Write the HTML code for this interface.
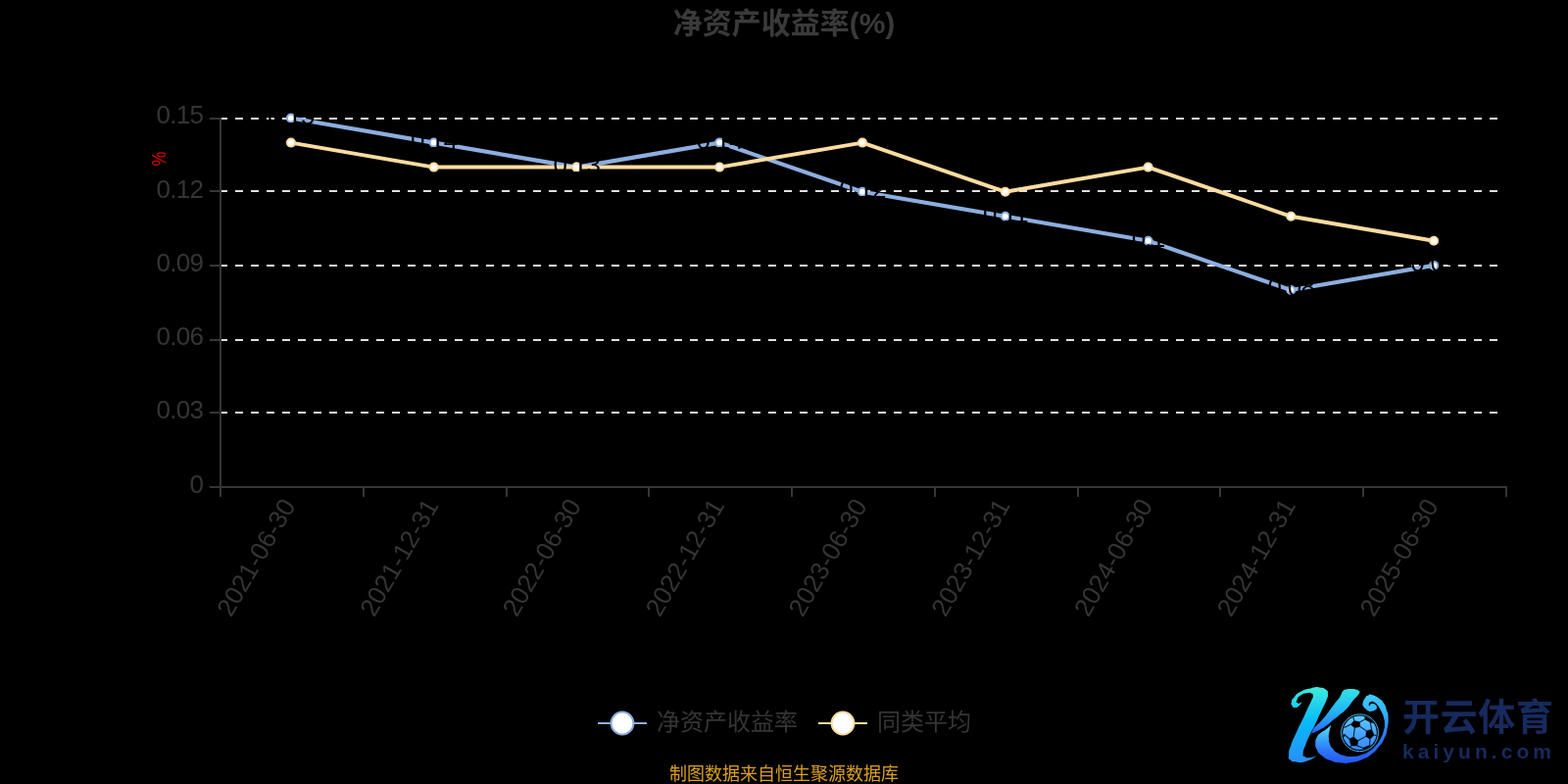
<!DOCTYPE html>
<html lang="zh"><head><meta charset="utf-8"><title>净资产收益率(%)</title>
<style>
html,body{margin:0;padding:0;background:#000;}
body{width:1600px;height:800px;overflow:hidden;position:relative;font-family:"Liberation Sans","Noto Sans CJK SC",sans-serif;}
svg{position:absolute;left:0;top:0;display:block;will-change:transform;}
text{font-family:"Liberation Sans","Noto Sans CJK SC",sans-serif;}
.ax{fill:#353535;font-size:26px;}
.yl{letter-spacing:-0.75px;}
.dl{fill:#000;font-size:26px;letter-spacing:-0.75px;}
</style></head><body>
<svg width="1600" height="800" viewBox="0 0 1600 800">
<rect width="1600" height="800" fill="#000"/>
<g id="title"><text x="800" y="34" font-size="30" font-weight="bold" text-anchor="middle" fill="#3a3a3a">净资产收益率(%)</text></g>
<g id="grid" stroke="#dfdfdf" stroke-width="2" stroke-dasharray="8 8" fill="none">
<path d="M224 121 H1536"/>
<path d="M224 195 H1536"/>
<path d="M224 271 H1536"/>
<path d="M224 347 H1536"/>
<path d="M224 421 H1536"/>
</g>
<g id="axes" stroke="#363636" stroke-width="2" fill="none">
<path d="M225 120 V498"/>
<path d="M224 497 H1538"/>
<path d="M214 121 H225"/>
<path d="M214 195 H225"/>
<path d="M214 271 H225"/>
<path d="M214 347 H225"/>
<path d="M214 421 H225"/>
<path d="M214 497 H225"/>
<path d="M225 497 V507"/>
<path d="M371 497 V507"/>
<path d="M517 497 V507"/>
<path d="M662 497 V507"/>
<path d="M808 497 V507"/>
<path d="M954 497 V507"/>
<path d="M1100 497 V507"/>
<path d="M1245 497 V507"/>
<path d="M1391 497 V507"/>
<path d="M1537 497 V507"/>
</g>
<g id="ylabels" class="ax yl" text-anchor="end">
<text x="207.1" y="126.2">0.15</text>
<text x="207.1" y="201.5">0.12</text>
<text x="207.1" y="276.7">0.09</text>
<text x="207.1" y="352.0">0.06</text>
<text x="207.1" y="427.2">0.03</text>
<text x="207.1" y="502.5">0</text>
</g>
<text id="yname" x="0" y="0" transform="translate(169 162.1) rotate(-90) scale(0.84 1)" text-anchor="middle" font-size="20" fill="#e00000">%</text>
<g id="xlabels" class="ax" text-anchor="end">
<text transform="translate(295.4 511.6) rotate(-60)" x="0" y="8">2021-06-30</text>
<text transform="translate(441.2 511.6) rotate(-60)" x="0" y="8">2021-12-31</text>
<text transform="translate(586.9 511.6) rotate(-60)" x="0" y="8">2022-06-30</text>
<text transform="translate(732.7 511.6) rotate(-60)" x="0" y="8">2022-12-31</text>
<text transform="translate(878.5 511.6) rotate(-60)" x="0" y="8">2023-06-30</text>
<text transform="translate(1024.3 511.6) rotate(-60)" x="0" y="8">2023-12-31</text>
<text transform="translate(1170.1 511.6) rotate(-60)" x="0" y="8">2024-06-30</text>
<text transform="translate(1315.8 511.6) rotate(-60)" x="0" y="8">2024-12-31</text>
<text transform="translate(1461.6 511.6) rotate(-60)" x="0" y="8">2025-06-30</text>
</g>
<g id="series" fill="none" stroke-linejoin="bevel">
<path d="M296.9 120.5 L442.7 145.6 L588.4 170.6 L734.2 145.6 L880.0 195.7 L1025.8 220.8 L1171.6 245.8 L1317.3 296.0 L1463.1 270.9" stroke="#8caee0" stroke-width="4.2"/>
<path d="M296.9 145.6 L442.7 170.6 L588.4 170.6 L734.2 170.6 L880.0 145.6 L1025.8 195.7 L1171.6 170.6 L1317.3 220.8 L1463.1 245.8" stroke="#fddca0" stroke-width="4"/>
</g>
<g id="symbols" fill="#fff" stroke-width="2">
<circle cx="296.9" cy="120.5" r="4" stroke="#8caee0"/>
<circle cx="442.7" cy="145.6" r="4" stroke="#8caee0"/>
<circle cx="588.4" cy="170.6" r="4" stroke="#8caee0"/>
<circle cx="734.2" cy="145.6" r="4" stroke="#8caee0"/>
<circle cx="880.0" cy="195.7" r="4" stroke="#8caee0"/>
<circle cx="1025.8" cy="220.8" r="4" stroke="#8caee0"/>
<circle cx="1171.6" cy="245.8" r="4" stroke="#8caee0"/>
<circle cx="1317.3" cy="296.0" r="4" stroke="#8caee0"/>
<circle cx="1463.1" cy="270.9" r="4" stroke="#8caee0"/>
<circle cx="296.9" cy="145.6" r="4" stroke="#fddca0"/>
<circle cx="442.7" cy="170.6" r="4" stroke="#fddca0"/>
<circle cx="588.4" cy="170.6" r="4" stroke="#fddca0"/>
<circle cx="734.2" cy="170.6" r="4" stroke="#fddca0"/>
<circle cx="880.0" cy="145.6" r="4" stroke="#fddca0"/>
<circle cx="1025.8" cy="195.7" r="4" stroke="#fddca0"/>
<circle cx="1171.6" cy="170.6" r="4" stroke="#fddca0"/>
<circle cx="1317.3" cy="220.8" r="4" stroke="#fddca0"/>
<circle cx="1463.1" cy="245.8" r="4" stroke="#fddca0"/>
</g>
<g id="dlabels" class="dl" text-anchor="middle">
<text x="296.9" y="126.5">0.15</text>
<text x="442.7" y="151.6">0.14</text>
<text x="588.4" y="176.6">0.13</text>
<text x="734.2" y="151.6">0.14</text>
<text x="880.0" y="201.7">0.12</text>
<text x="1025.8" y="226.8">0.11</text>
<text x="1171.6" y="251.8">0.1</text>
<text x="1317.3" y="302.0">0.08</text>
<text x="1463.1" y="276.9">0.09</text>
</g>
<g id="legend">
<path d="M610 738 H660" stroke="#8caee0" stroke-width="2.2"/>
<circle cx="635" cy="738" r="11.4" fill="#fff" stroke="#8caee0" stroke-width="2"/>
<text x="670" y="745" font-size="24" fill="#353535">净资产收益率</text>
<path d="M835 738 H885" stroke="#fddca0" stroke-width="2.2"/>
<circle cx="860" cy="738" r="11.4" fill="#fff" stroke="#fddca0" stroke-width="2"/>
<text x="895" y="745" font-size="24" fill="#353535">同类平均</text>
</g>
<g id="caption"><text x="800" y="796" font-size="18" text-anchor="middle" fill="#d9a020">制图数据来自恒生聚源数据库</text></g>
<g id="logo">
<defs>
<linearGradient id="gStem" gradientUnits="userSpaceOnUse" x1="0" y1="701" x2="0" y2="778">
<stop offset="0" stop-color="#40ecda"/><stop offset="0.22" stop-color="#22d4ec"/><stop offset="0.48" stop-color="#08b8fa"/><stop offset="1" stop-color="#2a8ef8"/></linearGradient>
<linearGradient id="gArm" gradientUnits="userSpaceOnUse" x1="0" y1="703" x2="0" y2="749">
<stop offset="0" stop-color="#34e2e2"/><stop offset="0.45" stop-color="#22baf4"/><stop offset="0.8" stop-color="#2a86f6"/><stop offset="1" stop-color="#2a5cf4"/></linearGradient>
<linearGradient id="gLeg" gradientUnits="userSpaceOnUse" x1="0" y1="740" x2="0" y2="778">
<stop offset="0" stop-color="#62e2fa"/><stop offset="0.3" stop-color="#3eb0f8"/><stop offset="0.65" stop-color="#2c7af8"/><stop offset="1" stop-color="#2858f4"/></linearGradient>
<linearGradient id="gSw" gradientUnits="userSpaceOnUse" x1="0" y1="709" x2="0" y2="778">
<stop offset="0" stop-color="#3cccfa"/><stop offset="0.25" stop-color="#34b4fa"/><stop offset="0.55" stop-color="#2c80f8"/><stop offset="1" stop-color="#2858f4"/></linearGradient>
<linearGradient id="gBall" gradientUnits="userSpaceOnUse" x1="0" y1="731" x2="0" y2="765">
<stop offset="0" stop-color="#62c8fb"/><stop offset="0.5" stop-color="#4aa6fa"/><stop offset="1" stop-color="#3888f8"/></linearGradient>
<clipPath id="ballClip"><circle cx="1387.5" cy="747.8" r="17.3"/></clipPath>
<clipPath id="legL"><rect x="1330" y="730" width="58" height="60"/></clipPath>
<clipPath id="legR"><rect x="1388" y="700" width="40" height="90"/></clipPath>
</defs>
<path fill="url(#gStem)" d="M1328.60 714.90 C1327.83 716.40 1328.57 717.07 1326.30 719.40 C1324.03 721.73 1324.43 721.73 1321.80 721.90 C1319.17 722.07 1319.70 721.67 1318.40 719.90 C1317.10 718.13 1317.33 719.20 1317.90 716.60 C1318.47 714.00 1317.10 715.67 1320.10 712.10 C1323.10 708.53 1320.90 709.20 1326.90 705.90 C1332.90 702.60 1331.53 703.70 1338.10 702.20 C1344.67 700.70 1341.73 700.93 1346.60 701.40 C1351.47 701.87 1349.90 701.37 1352.70 703.60 C1355.50 705.83 1354.80 704.33 1355.00 708.10 C1355.20 711.87 1355.17 709.83 1353.30 714.90 C1351.43 719.97 1352.20 717.30 1349.40 723.30 C1346.60 729.30 1347.87 726.57 1344.90 732.90 C1341.93 739.23 1343.13 736.90 1340.50 742.30 C1337.87 747.70 1339.67 743.47 1337.00 749.10 C1334.33 754.73 1334.93 752.67 1332.50 759.20 C1330.07 765.73 1330.07 764.40 1329.70 768.70 C1329.33 773.00 1329.17 770.60 1331.40 772.10 C1333.63 773.60 1332.30 773.47 1336.40 773.20 C1340.50 772.93 1341.27 771.93 1343.70 771.30 C1340.33 773.07 1340.13 774.47 1333.60 776.60 C1327.07 778.73 1329.73 778.07 1324.10 777.70 C1318.47 777.33 1319.70 778.10 1316.70 775.50 C1313.70 772.90 1314.90 774.97 1315.10 769.90 C1315.30 764.83 1314.53 768.20 1317.30 760.30 C1320.07 752.40 1319.73 754.30 1323.40 746.20 C1327.07 738.10 1325.67 741.50 1328.30 736.00 C1330.93 730.50 1329.10 734.43 1331.30 729.70 C1333.50 724.97 1332.63 726.73 1334.90 721.80 C1337.17 716.87 1336.47 718.67 1338.10 714.90 C1339.73 711.13 1339.80 712.93 1339.80 710.50 C1339.80 708.07 1340.17 708.67 1338.10 707.60 C1336.03 706.53 1337.33 706.57 1333.60 707.30 C1329.87 708.03 1330.37 707.27 1326.90 709.80 C1323.43 712.33 1324.33 712.47 1323.20 714.90 C1322.07 717.33 1322.47 716.27 1323.50 717.10 C1324.53 717.93 1324.60 718.13 1326.30 717.40 C1328.00 716.67 1327.83 715.73 1328.60 714.90Z"/>
<path fill="url(#gArm)" d="M1370.10 705.40 C1372.17 702.90 1370.67 704.17 1373.50 703.40 C1376.33 702.63 1375.23 703.03 1378.60 703.10 C1381.97 703.17 1381.03 703.03 1383.60 703.60 C1386.17 704.17 1385.07 703.83 1386.30 704.80 C1387.53 705.77 1387.63 704.83 1387.30 706.50 C1386.97 708.17 1387.67 706.80 1385.30 709.80 C1382.93 712.80 1383.93 711.00 1380.20 715.50 C1376.47 720.00 1378.97 718.27 1374.10 723.30 C1369.23 728.33 1370.30 726.67 1365.60 730.60 C1360.90 734.53 1364.03 731.80 1360.00 735.10 C1355.97 738.40 1358.17 737.20 1353.50 740.50 C1348.83 743.80 1351.23 742.23 1346.00 745.00 C1340.77 747.77 1340.53 747.53 1337.80 748.80 C1338.80 746.80 1339.80 744.80 1340.80 742.80 C1343.80 739.80 1344.07 740.30 1349.80 733.80 C1355.53 727.30 1353.60 729.03 1358.00 723.30 C1362.40 717.57 1359.90 720.73 1363.00 716.60 C1366.10 712.47 1364.93 714.63 1367.30 710.90 C1369.67 707.17 1368.03 707.90 1370.10 705.40Z"/>
<path fill="url(#gLeg)" clip-path="url(#legL)" d="M1358.40 739.80 C1356.77 741.17 1357.13 741.17 1353.50 743.90 C1349.87 746.63 1350.73 745.23 1347.50 748.00 C1344.27 750.77 1345.53 748.70 1343.80 752.20 C1342.07 755.70 1342.33 754.33 1342.30 758.50 C1342.27 762.67 1341.63 760.60 1343.70 764.70 C1345.77 768.80 1343.80 767.00 1348.50 770.80 C1353.20 774.60 1351.13 773.53 1357.80 776.10 C1364.47 778.67 1361.50 777.90 1368.50 778.50 C1375.50 779.10 1371.63 779.10 1378.80 777.90 C1385.97 776.70 1383.27 777.53 1390.00 774.90 C1396.73 772.27 1393.50 774.13 1399.00 770.00 C1404.50 765.87 1402.00 768.00 1406.50 762.50 C1411.00 757.00 1409.50 759.73 1412.50 753.50 C1415.50 747.27 1414.13 750.97 1415.50 743.80 C1416.87 736.63 1416.80 738.47 1416.60 732.00 C1416.40 725.53 1416.43 729.23 1414.90 724.40 C1413.37 719.57 1414.67 721.50 1412.00 717.50 C1409.33 713.50 1411.07 715.27 1406.90 712.40 C1402.73 709.53 1403.10 709.83 1399.50 708.90 C1395.90 707.97 1398.20 708.60 1396.10 709.60 C1394.00 710.60 1395.03 709.27 1393.20 711.90 C1391.37 714.53 1391.20 714.50 1390.60 717.50 C1390.00 720.50 1390.47 719.00 1391.40 720.90 C1392.33 722.80 1391.93 721.80 1393.40 723.20 C1394.87 724.60 1394.10 724.20 1395.80 725.10 C1397.50 726.00 1396.03 726.07 1398.50 725.90 C1400.97 725.73 1401.07 725.83 1403.20 724.60 C1405.33 723.37 1404.43 723.57 1404.90 722.20 C1405.37 720.83 1405.27 721.63 1404.60 720.50 C1403.93 719.37 1404.27 719.63 1402.90 718.80 C1401.53 717.97 1401.97 718.00 1400.50 718.00 C1399.03 718.00 1399.60 717.90 1398.50 718.80 C1397.40 719.70 1397.63 720.07 1397.20 720.70 C1397.13 719.73 1396.23 719.33 1397.00 717.80 C1397.77 716.27 1397.67 716.43 1399.50 716.10 C1401.33 715.77 1400.37 715.53 1402.50 716.80 C1404.63 718.07 1403.87 717.43 1405.90 719.90 C1407.93 722.37 1407.03 721.40 1408.60 724.20 C1410.17 727.00 1409.47 725.53 1410.60 728.30 C1411.73 731.07 1411.23 729.10 1412.00 732.50 C1412.77 735.90 1412.97 734.00 1412.90 738.50 C1412.83 743.00 1413.17 741.00 1411.80 746.00 C1410.43 751.00 1411.30 748.73 1408.80 753.50 C1406.30 758.27 1408.07 756.03 1404.30 760.30 C1400.53 764.57 1402.27 763.07 1397.50 766.30 C1392.73 769.53 1395.73 768.13 1390.00 770.00 C1384.27 771.87 1386.53 771.60 1380.30 771.90 C1374.07 772.20 1376.57 772.17 1371.30 770.90 C1366.03 769.63 1368.27 770.40 1364.50 768.10 C1360.73 765.80 1362.50 767.03 1360.00 764.00 C1357.50 760.97 1358.37 762.67 1357.00 759.00 C1355.63 755.33 1356.07 757.17 1355.90 753.00 C1355.73 748.83 1355.67 750.90 1356.50 746.50 C1357.33 742.10 1357.77 742.03 1358.40 739.80Z"/>
<path fill="url(#gSw)" clip-path="url(#legR)" d="M1358.40 739.80 C1356.77 741.17 1357.13 741.17 1353.50 743.90 C1349.87 746.63 1350.73 745.23 1347.50 748.00 C1344.27 750.77 1345.53 748.70 1343.80 752.20 C1342.07 755.70 1342.33 754.33 1342.30 758.50 C1342.27 762.67 1341.63 760.60 1343.70 764.70 C1345.77 768.80 1343.80 767.00 1348.50 770.80 C1353.20 774.60 1351.13 773.53 1357.80 776.10 C1364.47 778.67 1361.50 777.90 1368.50 778.50 C1375.50 779.10 1371.63 779.10 1378.80 777.90 C1385.97 776.70 1383.27 777.53 1390.00 774.90 C1396.73 772.27 1393.50 774.13 1399.00 770.00 C1404.50 765.87 1402.00 768.00 1406.50 762.50 C1411.00 757.00 1409.50 759.73 1412.50 753.50 C1415.50 747.27 1414.13 750.97 1415.50 743.80 C1416.87 736.63 1416.80 738.47 1416.60 732.00 C1416.40 725.53 1416.43 729.23 1414.90 724.40 C1413.37 719.57 1414.67 721.50 1412.00 717.50 C1409.33 713.50 1411.07 715.27 1406.90 712.40 C1402.73 709.53 1403.10 709.83 1399.50 708.90 C1395.90 707.97 1398.20 708.60 1396.10 709.60 C1394.00 710.60 1395.03 709.27 1393.20 711.90 C1391.37 714.53 1391.20 714.50 1390.60 717.50 C1390.00 720.50 1390.47 719.00 1391.40 720.90 C1392.33 722.80 1391.93 721.80 1393.40 723.20 C1394.87 724.60 1394.10 724.20 1395.80 725.10 C1397.50 726.00 1396.03 726.07 1398.50 725.90 C1400.97 725.73 1401.07 725.83 1403.20 724.60 C1405.33 723.37 1404.43 723.57 1404.90 722.20 C1405.37 720.83 1405.27 721.63 1404.60 720.50 C1403.93 719.37 1404.27 719.63 1402.90 718.80 C1401.53 717.97 1401.97 718.00 1400.50 718.00 C1399.03 718.00 1399.60 717.90 1398.50 718.80 C1397.40 719.70 1397.63 720.07 1397.20 720.70 C1397.13 719.73 1396.23 719.33 1397.00 717.80 C1397.77 716.27 1397.67 716.43 1399.50 716.10 C1401.33 715.77 1400.37 715.53 1402.50 716.80 C1404.63 718.07 1403.87 717.43 1405.90 719.90 C1407.93 722.37 1407.03 721.40 1408.60 724.20 C1410.17 727.00 1409.47 725.53 1410.60 728.30 C1411.73 731.07 1411.23 729.10 1412.00 732.50 C1412.77 735.90 1412.97 734.00 1412.90 738.50 C1412.83 743.00 1413.17 741.00 1411.80 746.00 C1410.43 751.00 1411.30 748.73 1408.80 753.50 C1406.30 758.27 1408.07 756.03 1404.30 760.30 C1400.53 764.57 1402.27 763.07 1397.50 766.30 C1392.73 769.53 1395.73 768.13 1390.00 770.00 C1384.27 771.87 1386.53 771.60 1380.30 771.90 C1374.07 772.20 1376.57 772.17 1371.30 770.90 C1366.03 769.63 1368.27 770.40 1364.50 768.10 C1360.73 765.80 1362.50 767.03 1360.00 764.00 C1357.50 760.97 1358.37 762.67 1357.00 759.00 C1355.63 755.33 1356.07 757.17 1355.90 753.00 C1355.73 748.83 1355.67 750.90 1356.50 746.50 C1357.33 742.10 1357.77 742.03 1358.40 739.80Z"/>
<circle cx="1387.5" cy="747.8" r="18.9" fill="none" stroke="#46b6f8" stroke-width="1"/>
<circle cx="1387.5" cy="747.8" r="17.3" fill="url(#gBall)"/>
<g clip-path="url(#ballClip)">
<polygon fill="#000" stroke="#000" stroke-width="0.5" stroke-linejoin="round" points="1378.3,739.3 1381.7,735.4 1387.5,736.7 1387.8,741.4 1382.3,742.7"/>
<polygon fill="#000" stroke="#000" stroke-width="0.5" stroke-linejoin="round" points="1394.3,745.9 1399.6,744.3 1402.2,750.1 1398.0,754.3 1393.8,751.4"/>
<polygon fill="#000" stroke="#000" stroke-width="0.5" stroke-linejoin="round" points="1376.8,754.0 1381.2,752.1 1385.8,755.8 1384.9,760.9 1378.9,760.9"/>
<polygon fill="#000" stroke="#000" stroke-width="0.5" stroke-linejoin="round" points="1392.6,730.0 1396.5,731.0 1401.0,735.0 1402.0,738.0 1398.3,737.0 1392.8,734.1"/>
<polygon fill="#000" stroke="#000" stroke-width="0.5" stroke-linejoin="round" points="1369.0,750.3 1372.6,749.3 1372.8,750.4 1370.0,753.0"/>
<polygon fill="#000" stroke="#000" stroke-width="0.5" stroke-linejoin="round" points="1390.7,763.2 1397.5,760.6 1399.6,761.4 1397.0,765.5 1391.2,766.5"/>
<polyline fill="none" stroke="#04183c" stroke-width="1.05" points="1382.3,742.7 1381.2,752.1"/>
<polyline fill="none" stroke="#04183c" stroke-width="1.05" points="1387.8,741.4 1394.3,745.9"/>
<polyline fill="none" stroke="#04183c" stroke-width="1.05" points="1393.8,751.4 1385.8,755.8"/>
<polyline fill="none" stroke="#04183c" stroke-width="1.05" points="1378.3,739.3 1372.0,742.2 1369.5,742.8"/>
<polyline fill="none" stroke="#04183c" stroke-width="1.05" points="1381.7,735.4 1381.0,732.2 1380.6,729.5"/>
<polyline fill="none" stroke="#04183c" stroke-width="1.05" points="1387.5,736.7 1392.8,734.1"/>
<polyline fill="none" stroke="#04183c" stroke-width="1.05" points="1399.6,744.3 1398.3,737.0"/>
<polyline fill="none" stroke="#04183c" stroke-width="1.05" points="1402.2,750.1 1406.0,750.8"/>
<polyline fill="none" stroke="#04183c" stroke-width="1.05" points="1398.0,754.3 1397.5,760.6"/>
<polyline fill="none" stroke="#04183c" stroke-width="1.05" points="1384.9,760.9 1390.7,763.2"/>
<polyline fill="none" stroke="#04183c" stroke-width="1.05" points="1378.9,760.9 1378.6,761.6 1376.8,764.0"/>
<polyline fill="none" stroke="#04183c" stroke-width="1.05" points="1376.8,754.0 1372.8,750.4"/>
</g>
<text x="1431" y="745" font-size="38" font-weight="bold" fill="#172a5e" textLength="154" lengthAdjust="spacing">开云体育</text>
<text x="1431" y="774" font-size="21" font-weight="bold" fill="#172a5e" textLength="152" lengthAdjust="spacing">kaiyun.com</text>
</g>
</svg>
</body></html>
